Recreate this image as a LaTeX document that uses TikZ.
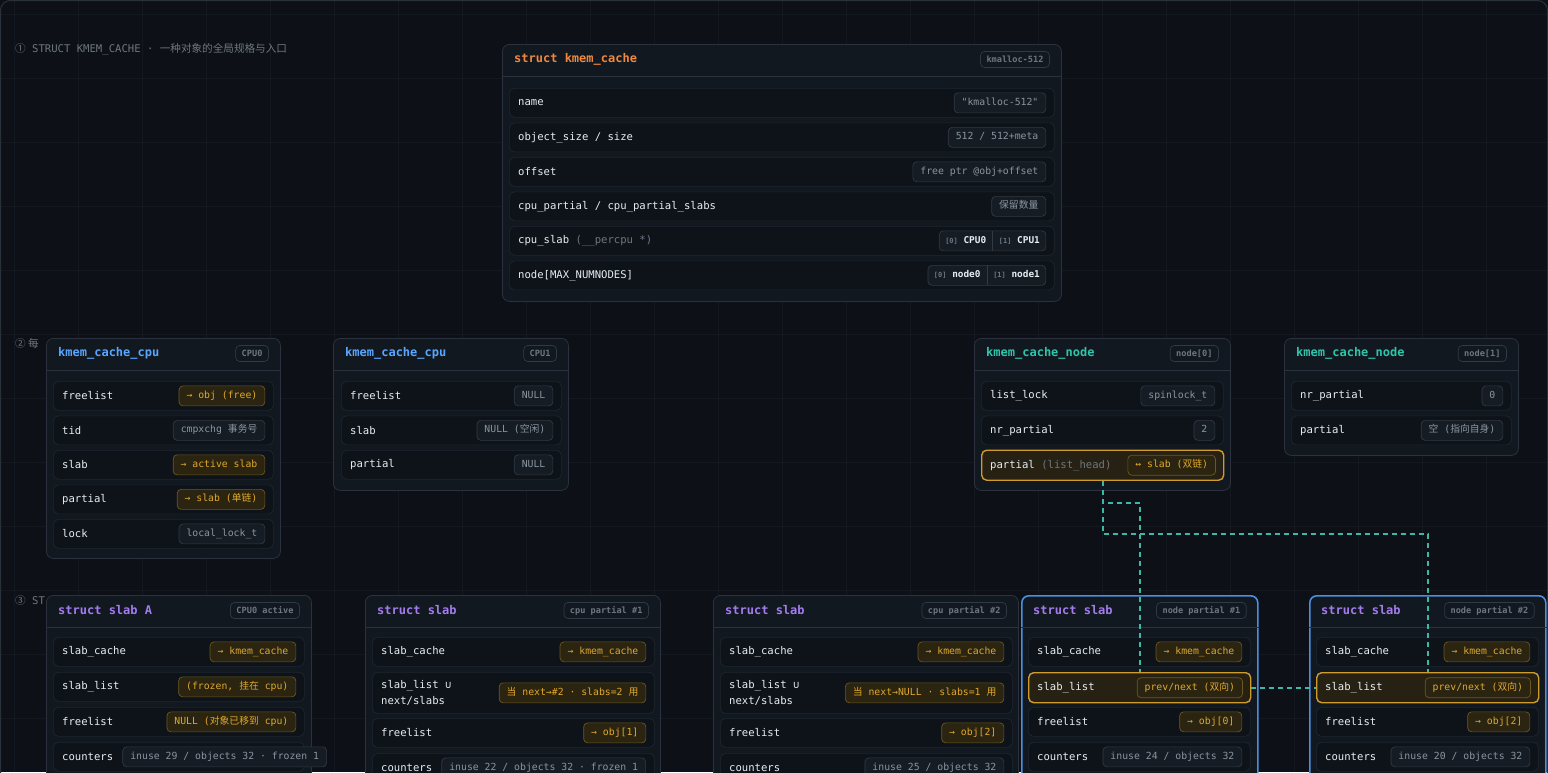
\documentclass[tikz,border=0pt]{standalone}
\usepackage{fontspec}
\setmonofont{DejaVu Sans Mono}
\renewcommand{\familydefault}{\ttdefault}
\newfontfamily\cjk{Noto Sans CJK SC}
\usetikzlibrary{calc}
\definecolor{bg}{HTML}{0D1117}
\definecolor{gridc}{HTML}{131920}
\definecolor{frame}{HTML}{2A313B}
\definecolor{boxfill}{HTML}{121820}
\definecolor{boxline}{HTML}{2B323D}
\definecolor{rowfill}{HTML}{0E131A}
\definecolor{rowline}{HTML}{1F262F}
\definecolor{ink}{HTML}{E6EDF3}
\definecolor{muted}{HTML}{8B949E}
\definecolor{dim}{HTML}{6E7681}
\definecolor{badgefill}{HTML}{161C24}
\definecolor{badgeline}{HTML}{313944}
\definecolor{amber}{HTML}{E0A82E}
\definecolor{amberfill}{HTML}{2A2410}
\definecolor{amberline}{HTML}{6B5821}
\definecolor{amberrow}{HTML}{262113}
\definecolor{hotline}{HTML}{CF9C2C}
\definecolor{korange}{HTML}{F0883E}
\definecolor{kblue}{HTML}{58A6FF}
\definecolor{kteal}{HTML}{2FC5AB}
\definecolor{kpurple}{HTML}{A37CF0}
\definecolor{nodeblue}{HTML}{4A8FE0}
\definecolor{linkc}{HTML}{3DB8A4}
\newcommand{\zh}[1]{{\cjk #1}}
\newcommand{\cellidx}[1]{{\color{dim}\fontsize{7}{8}\selectfont #1}}
\newcommand{\bsep}{\hspace{6pt}{\color{badgeline}\vrule width .7pt height 12.5pt depth 7.5pt}\hspace{6pt}}
\tikzset{
  gridline/.style={gridc,line width=.6pt},
  sectlbl/.style={anchor=west,inner sep=0pt,text=dim,font=\fontsize{10.6}{12}\selectfont},
  structbox/.style={draw=boxline,fill=boxfill,rounded corners=7pt,line width=.8pt,inner sep=0pt},
  slabnode/.style={structbox,draw=nodeblue,line width=1.6pt},
  sepline/.style={boxline,line width=.8pt},
  boxtitle/.style={inner sep=0pt,font=\bfseries\fontsize{12}{14}\selectfont},
  tagbadge/.style={draw=badgeline,rounded corners=4pt,line width=.7pt,text=dim,inner xsep=6pt,inner ysep=0pt,
    minimum height=16pt,text height=6.5pt,text depth=1.5pt,font=\bfseries\fontsize{8.6}{10}\selectfont},
  fieldrow/.style={draw=rowline,fill=rowfill,rounded corners=5pt,line width=.7pt,minimum height=29pt,inner sep=0pt},
  hotrow/.style={fieldrow,draw=hotline,fill=amberrow,line width=1.4pt,minimum height=30pt},
  fieldlbl/.style={anchor=west,inner sep=0pt,align=left,text=ink,font=\fontsize{10.6}{16}\selectfont},
  gbadge/.style={draw=badgeline,fill=badgefill,rounded corners=4pt,line width=.7pt,text=muted,inner xsep=7.5pt,
    inner ysep=0pt,minimum height=20pt,text height=7.5pt,text depth=2.5pt,font=\fontsize{9.8}{11}\selectfont},
  abadge/.style={gbadge,draw=amberline,fill=amberfill,text=amber},
  pairbadge/.style={gbadge,text=ink,inner xsep=6pt,text height=,text depth=,font=\bfseries\fontsize{9.4}{11}\selectfont},
  link/.style={linkc,line width=1.8pt,dash pattern=on 5pt off 4pt}
}
\newcommand{\structbox}[9][structbox]{%
  \node[#1,anchor=north west,minimum width=#5,minimum height=#6] (#2) at (#3,#4) {};
  \draw[sepline] ([yshift=-32pt]#2.north west) -- ([yshift=-32pt]#2.north east);
  \node[boxtitle,text=#7,anchor=west] (#2-title) at ([xshift=12pt,yshift=-15.5pt]#2.north west) {#8};
  \node[tagbadge,anchor=east] (#2-tag) at ([xshift=-12pt,yshift=-15.5pt]#2.north east) {#9};
}
\newcommand{\field}[8][fieldrow]{%
  \node[#1,anchor=north west,minimum width=#6] (#3) at (#4,#5) {};
  \node[fieldlbl] (#3-l) at ([xshift=9pt]#3.west) {#7};
  \node[#2,anchor=east] (#3-v) at ([xshift=-8.5pt]#3.east) {#8};
}
\begin{document}
\begin{tikzpicture}[x=1pt,y=-1pt]
\clip (0,0) rectangle (1548,772);
\fill[bg] (0,0) rectangle (1548,772);
\foreach \g in {14,78,...,1548} \draw[gridline] (\g,0) -- (\g,772);
\foreach \g in {14,78,...,772} \draw[gridline] (0,\g) -- (1548,\g);
\draw[frame,line width=1pt,rounded corners=10pt] (.5,.5) rectangle (1547.5,830);

% section labels
\node[sectlbl] (sec1) at (15,49) {\zh{①} STRUCT KMEM\_CACHE · \zh{一种对象的全局规格与入口}};
\node[sectlbl] (sec2) at (15,343) {\zh{② 每}};
\node[sectlbl] (sec3) at (15,600) {\zh{③} ST};

% struct kmem_cache
\structbox{kc}{502}{44}{559}{257}{korange}{struct kmem\_cache}{kmalloc-512}
\field{gbadge}{kc-name}{509}{88}{545}{name}{"kmalloc-512"}
\field{gbadge}{kc-size}{509}{122.5}{545}{object\_size / size}{512 / 512+meta}
\field{gbadge}{kc-off}{509}{157}{545}{offset}{free ptr @obj+offset}
\field{gbadge}{kc-part}{509}{191.5}{545}{cpu\_partial / cpu\_partial\_slabs}{\zh{保留数量}}
\field{pairbadge}{kc-cpu}{509}{226}{545}{cpu\_slab {\color{dim}(\_\_percpu *)}}{\cellidx{[0]} CPU0\bsep\cellidx{[1]} CPU1}
\field{pairbadge}{kc-node}{509}{260.5}{545}{node[MAX\_NUMNODES]}{\cellidx{[0]} node0\bsep\cellidx{[1]} node1}

% per-cpu
\structbox{cpu0}{46}{338}{234}{220}{kblue}{kmem\_cache\_cpu}{CPU0}
\field{abadge}{cpu0-free}{53}{381}{220}{freelist}{→ obj (free)}
\field{gbadge}{cpu0-tid}{53}{415.5}{220}{tid}{cmpxchg \zh{事务号}}
\field{abadge}{cpu0-slab}{53}{450}{220}{slab}{→ active slab}
\field{abadge}{cpu0-part}{53}{484.5}{220}{partial}{→ slab (\zh{单链})}
\field{gbadge}{cpu0-lock}{53}{519}{220}{lock}{local\_lock\_t}

\structbox{cpu1}{333}{338}{235}{152}{kblue}{kmem\_cache\_cpu}{CPU1}
\field{gbadge}{cpu1-free}{341}{381}{220}{freelist}{NULL}
\field{gbadge}{cpu1-slab}{341}{415.5}{220}{slab}{NULL (\zh{空闲})}
\field{gbadge}{cpu1-part}{341}{450}{220}{partial}{NULL}

% per-node
\structbox{nd0}{974}{338}{256}{152}{kteal}{kmem\_cache\_node}{node[0]}
\field{gbadge}{nd0-lock}{981}{381}{242}{list\_lock}{spinlock\_t}
\field{gbadge}{nd0-nr}{981}{415.5}{242}{nr\_partial}{2}
\field[hotrow]{abadge}{nd0-part}{981}{449.5}{242}{partial {\color{dim}(list\_head)}}{↔ slab (\zh{双链})}

\structbox{nd1}{1284}{338}{234}{117}{kteal}{kmem\_cache\_node}{node[1]}
\field{gbadge}{nd1-nr}{1291}{381}{220}{nr\_partial}{0}
\field{gbadge}{nd1-part}{1291}{415.5}{220}{partial}{\zh{空} (\zh{指向自身})}

% slabs
\structbox{sa}{46}{595}{265}{220}{kpurple}{struct slab A}{CPU0 active}
\field{abadge}{sa-cache}{53}{637}{251}{slab\_cache}{→ kmem\_cache}
\field{abadge}{sa-list}{53}{672}{251}{slab\_list}{(frozen, \zh{挂在} cpu)}
\field{abadge}{sa-free}{53}{707}{251}{freelist}{NULL (\zh{对象已移到} cpu)}
\node[fieldrow,anchor=north west,minimum width=251] (sa-cnt) at (53,742) {};
\node[fieldlbl] (sa-cnt-l) at ([xshift=9pt]sa-cnt.west) {counters};
\node[gbadge,anchor=west] (sa-cnt-v) at ([xshift=9pt]sa-cnt-l.east) {inuse 29 / objects 32 · frozen 1};

\structbox{s1}{365}{595}{295}{220}{kpurple}{struct slab}{cpu partial \#1}
\field{abadge}{s1-cache}{372}{637}{282}{slab\_cache}{→ kmem\_cache}
\field[fieldrow,minimum height=41pt]{abadge}{s1-list}{372}{672}{282}{slab\_list ∪\\next/slabs}{\zh{当} next→\#2 · slabs=2 \zh{用}}
\field{abadge}{s1-free}{372}{718}{282}{freelist}{→ obj[1]}
\node[fieldrow,anchor=north west,minimum width=282] (s1-cnt) at (372,753) {};
\node[fieldlbl] (s1-cnt-l) at ([xshift=9pt]s1-cnt.west) {counters};
\node[gbadge,anchor=west] (s1-cnt-v) at ([xshift=9pt]s1-cnt-l.east) {inuse 22 / objects 32 · frozen 1};

\structbox{s2}{713}{595}{305}{220}{kpurple}{struct slab}{cpu partial \#2}
\field{abadge}{s2-cache}{720}{637}{292}{slab\_cache}{→ kmem\_cache}
\field[fieldrow,minimum height=41pt]{abadge}{s2-list}{720}{672}{292}{slab\_list ∪\\next/slabs}{\zh{当} next→NULL · slabs=1 \zh{用}}
\field{abadge}{s2-free}{720}{718}{292}{freelist}{→ obj[2]}
\field{gbadge}{s2-cnt}{720}{753}{292}{counters}{inuse 25 / objects 32}

\structbox[slabnode]{s3}{1021}{595}{236}{220}{kpurple}{struct slab}{node partial \#1}
\field{abadge}{s3-cache}{1028}{637}{222}{slab\_cache}{→ kmem\_cache}
\field[hotrow]{abadge}{s3-list}{1028}{672}{222}{slab\_list}{prev/next (\zh{双向})}
\field{abadge}{s3-free}{1028}{707}{222}{freelist}{→ obj[0]}
\field{gbadge}{s3-cnt}{1028}{742}{222}{counters}{inuse 24 / objects 32}

\structbox[slabnode]{s4}{1309}{595}{236}{220}{kpurple}{struct slab}{node partial \#2}
\field{abadge}{s4-cache}{1316}{637}{222}{slab\_cache}{→ kmem\_cache}
\field[hotrow]{abadge}{s4-list}{1316}{672}{222}{slab\_list}{prev/next (\zh{双向})}
\field{abadge}{s4-free}{1316}{707}{222}{freelist}{→ obj[2]}
\field{gbadge}{s4-cnt}{1316}{742}{222}{counters}{inuse 20 / objects 32}

% node partial list
\draw[link] (nd0-part.south) -- ++(0,22) -| (s3-list.north);
\draw[link] (nd0-part.south) -- ++(0,53) -| (s4-list.north);
\draw[link] (s3-list.east) -- (s4-list.west);
\end{tikzpicture}
\end{document}
